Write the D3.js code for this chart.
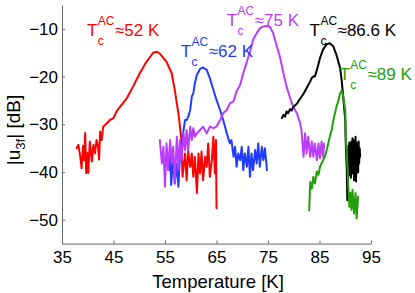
<!DOCTYPE html>
<html>
<head>
<meta charset="utf-8">
<script src="https://cdn.jsdelivr.net/npm/d3@7"></script>
<style>
  html, body { margin: 0; padding: 0; background: #fff; }
  svg { display: block; font-family: "Liberation Sans", Arial, Helvetica, sans-serif; }
</style>
</head>
<body>
<svg id="chart" width="415" height="293"></svg>
<script>
// ---------------- data (Temperature [K], |u3f| [dB]) ----------------
const xTicks = [35, 45, 55, 65, 75, 85, 95];
const yTicks = [-50, -40, -30, -20, -10];

const red = [
  [37.85,-35.0],[38.17,-34.3],[38.5,-36.4],[38.8,-39.2],[39.1,-34.5],[39.3,-37.5],[39.5,-31.8],
  [39.7,-40.2],[39.9,-36.0],[40.1,-40.2],[40.4,-33.6],[40.8,-37.8],[41.1,-34.3],[41.4,-36.1],
  [41.7,-33.3],[42.0,-34.7],[42.2,-37.4],[42.4,-31.5],[42.7,-33.3],[43.0,-30.5],[43.7,-29.8],
  [44.3,-29.1],[45.0,-28.7],[45.6,-27.3],[46.3,-26.3],[47.6,-24.5],[48.8,-22.1],[50.1,-19.3],
  [51.4,-16.9],[52.7,-15.0],[53.4,-14.8],[54.0,-15.2],[55.3,-16.9],[56.3,-19.3],[56.9,-22.8],
  [57.6,-27.7],[57.9,-30.5],[58.2,-33.3],[58.4,-41.0],[58.9,-36.1],[59.2,-41.7],[59.5,-35.7],
  [59.9,-38.9],[60.2,-36.1],[60.5,-41.0],[60.8,-36.8],[61.2,-44.4],[61.5,-36.1],[61.8,-40.3],
  [62.1,-35.7],[62.4,-41.7],[62.8,-36.8],[63.1,-38.9],[63.4,-34.0],[63.7,-41.0],[64.1,-37.5],
  [64.4,-32.6],[64.7,-40.3],[64.9,-33.3],[65.0,-47.6]
];

const blue = [
  [55.2,-37.5],[55.4,-35.4],[55.7,-39.6],[56.0,-36.8],[56.2,-42.7],[56.5,-38.2],[56.6,-37.5],
  [56.9,-42.4],[57.3,-38.2],[57.6,-43.1],[57.9,-36.8],[58.2,-34.7],[58.6,-31.2],[58.9,-29.1],
  [59.2,-29.1],[59.5,-28.4],[59.9,-27.0],[60.2,-24.2],[60.5,-23.5],[60.8,-21.4],[61.2,-19.6],
  [61.8,-18.4],[62.4,-18.1],[63.1,-18.6],[63.7,-20.3],[64.4,-22.8],[65.0,-24.9],[65.7,-27.0],
  [66.3,-29.1],[67.0,-31.9],[67.6,-34.0],[67.9,-33.3],[68.3,-36.8],[68.6,-34.7],[68.9,-38.9],
  [69.2,-36.1],[69.6,-37.5],[69.9,-34.7],[70.2,-39.6],[70.5,-36.1],[70.9,-38.9],[71.2,-34.7],
  [71.5,-41.0],[71.8,-36.1],[72.1,-39.6],[72.5,-35.4],[72.8,-38.2],[73.1,-34.0],[73.4,-38.9],
  [73.8,-34.7],[74.1,-37.5],[74.4,-35.0],[74.8,-39.6]
];

const purple = [
  [54.0,-33.3],[54.4,-38.2],[54.7,-34.7],[55.0,-43.1],[55.3,-34.0],[55.6,-39.6],[56.0,-33.3],
  [56.3,-38.2],[56.6,-34.7],[56.9,-42.4],[57.3,-32.6],[57.6,-39.6],[57.9,-33.3],[58.2,-37.5],
  [58.6,-31.9],[58.9,-35.4],[59.2,-31.2],[59.5,-35.4],[59.9,-30.5],[60.2,-33.3],[60.5,-30.8],
  [60.8,-32.6],[61.2,-31.9],[61.8,-31.2],[62.4,-30.5],[63.1,-31.9],[63.7,-30.5],[64.4,-30.8],
  [65.0,-30.5],[65.7,-29.1],[66.3,-27.7],[67.0,-27.0],[67.6,-25.6],[68.3,-25.2],[68.9,-23.1],
  [69.6,-21.7],[70.2,-19.3],[70.9,-16.9],[71.5,-14.8],[72.1,-12.3],[72.8,-10.9],[73.4,-9.9],
  [74.1,-9.5],[74.7,-9.4],[75.4,-9.6],[76.0,-10.9],[76.7,-13.6],[77.3,-15.8],[78.0,-19.3],
  [78.6,-22.1],[79.3,-24.5],[79.9,-26.3],[80.6,-27.7],[81.2,-29.6],[81.5,-31.2],[81.9,-36.8],
  [82.2,-31.9],[82.5,-36.1],[82.8,-32.6],[83.2,-36.8],[83.5,-33.6],[83.8,-36.8],[84.1,-34.0],
  [84.5,-37.5],[84.8,-34.0],[85.1,-37.1],[85.4,-33.6],[85.7,-36.8],[85.9,-34.0]
];

const black = [
  [77.7,-28.7],[78.0,-28.0],[78.3,-28.4],[78.6,-27.3],[78.9,-27.7],[79.3,-26.8],[79.6,-27.1],
  [79.9,-26.4],[80.6,-25.7],[81.2,-24.7],[81.9,-23.6],[82.5,-22.4],[83.2,-21.0],[83.5,-20.3],
  [83.8,-20.0],[84.1,-20.0],[84.5,-18.6],[85.1,-16.1],[85.7,-14.3],[86.4,-13.2],[87.0,-13.0],
  [87.7,-13.7],[88.3,-15.5],[89.0,-18.2],[89.3,-20.7],[89.6,-24.2],[90.0,-29.1],[90.1,-34.0],
  [90.3,-39.6],[90.4,-45.9],[90.5,-38.9],[90.6,-34.5],[90.7,-40.8],[90.8,-33.8],[90.9,-39.9],
  [91.0,-34.7],[91.1,-41.2],[91.2,-33.6],[91.3,-38.6],[91.4,-32.9],[91.5,-40.3],[91.6,-33.3],
  [91.7,-41.7],[91.8,-34.0],[91.9,-39.2],[92.0,-32.6],[92.1,-42.0],[92.2,-33.8],[92.3,-38.9],
  [92.4,-34.3],[92.5,-40.1],[92.6,-33.6],[92.7,-38.2],[92.8,-35.0],[92.9,-36.8]
];

const green = [
  [83.0,-48.0],[83.2,-42.1],[83.5,-43.5],[83.8,-41.0],[84.1,-42.4],[84.5,-39.9],[84.8,-40.6],
  [85.1,-38.9],[85.7,-37.5],[86.1,-36.6],[86.4,-35.4],[86.7,-34.0],[87.0,-32.6],[87.4,-31.0],
  [87.7,-29.1],[88.0,-27.7],[88.3,-26.3],[88.7,-24.9],[89.0,-23.5],[89.3,-23.0],[89.6,-24.0],
  [90.0,-27.0],[90.1,-32.6],[90.4,-38.2],[90.6,-43.1],[90.8,-47.3],[91.0,-44.4],[91.2,-47.9],
  [91.4,-43.7],[91.7,-48.7],[92.0,-44.4],[92.2,-49.7],[92.5,-45.2]
];

const seriesNames = ["52 K", "62 K", "75 K", "86.6 K", "89 K"];
const seriesData = [red, blue, purple, black, green];

// ---------------- layout / style ----------------
const colors = ["#ff0000", "#1f3cff", "#bb3cff", "#000000", "#22a00c"];
// label anchor positions in data units [T, dB]
const labelPos = [[39.85,-11.5],[58.05,-16.0],[66.98,-9.3],[83.06,-11.4],[88.88,-20.8]];

const svg = d3.select("#chart");
svg.append("rect").attr("width", 415).attr("height", 293).attr("fill", "#fff");

const x = d3.scaleLinear().domain([35, 95]).range([62, 371]);
const y = d3.scaleLinear().domain([-55, -5]).range([243.6, 5]);

// axes
const xAxis = d3.axisBottom(x).tickValues(xTicks).tickSizeInner(-3).tickSizeOuter(0).tickPadding(7)
  .tickFormat(d => d3.format("d")(d));
const yAxis = d3.axisLeft(y).tickValues(yTicks).tickSizeInner(-3).tickSizeOuter(0).tickPadding(4)
  .tickFormat(d => (d < 0 ? "\u2212" : "") + Math.abs(d));

const gx = svg.append("g").attr("transform", `translate(0,${y(-55)})`).call(xAxis);
const gy = svg.append("g").attr("transform", `translate(${x(35)},0)`).call(yAxis);
[gx, gy].forEach(g => {
  g.select(".domain").attr("stroke", "#666").attr("stroke-width", 1);
  g.selectAll(".tick line").attr("stroke", "#666");
  g.selectAll(".tick text").attr("fill", "#000").style("font-size", "17px")
    .style("font-family", '"Liberation Sans", Arial, Helvetica, sans-serif');
});

// axis labels
svg.append("text").attr("x", 218).attr("y", 288).attr("text-anchor", "middle")
  .style("font-size", "18.5px").text("Temperature [K]");

const yl = svg.append("text").attr("transform", "translate(20,130) rotate(-90)")
  .attr("text-anchor", "middle").style("font-size", "19px");
yl.append("tspan").text("|u");
yl.append("tspan").attr("dy", 5).style("font-size", "13px").text("3f");
yl.append("tspan").attr("dy", -5).text("| [dB]");

// curves
const line = d3.line().x(d => x(d[0])).y(d => y(d[1]));
svg.append("g").selectAll("path").data(seriesData).join("path")
  .attr("d", line)
  .attr("fill", "none")
  .attr("stroke", (d, i) => colors[i])
  .attr("stroke-width", 2)
  .attr("stroke-linejoin", "round")
  .attr("stroke-linecap", "round");

// annotations T_c^AC ≈ value
seriesNames.forEach((name, i) => {
  const px = x(labelPos[i][0]), py = y(labelPos[i][1]);
  const g = svg.append("g").attr("fill", colors[i]);
  const t = g.append("text").attr("x", px).attr("y", py).style("font-size", "17px").text("T");
  const tw = t.node().getComputedTextLength();
  const sup = g.append("text").attr("x", px + tw + 0.5).attr("y", py - 11)
    .style("font-size", "12px").text("AC");
  g.append("text").attr("x", px + tw + 0.5).attr("y", py + 9)
    .style("font-size", "12px").text("c");
  const sw = sup.node().getComputedTextLength();
  g.append("text").attr("x", px + tw + 0.5 + sw + 0.5).attr("y", py)
    .style("font-size", "17px").text("\u2248" + name);
});
</script>
</body>
</html>
